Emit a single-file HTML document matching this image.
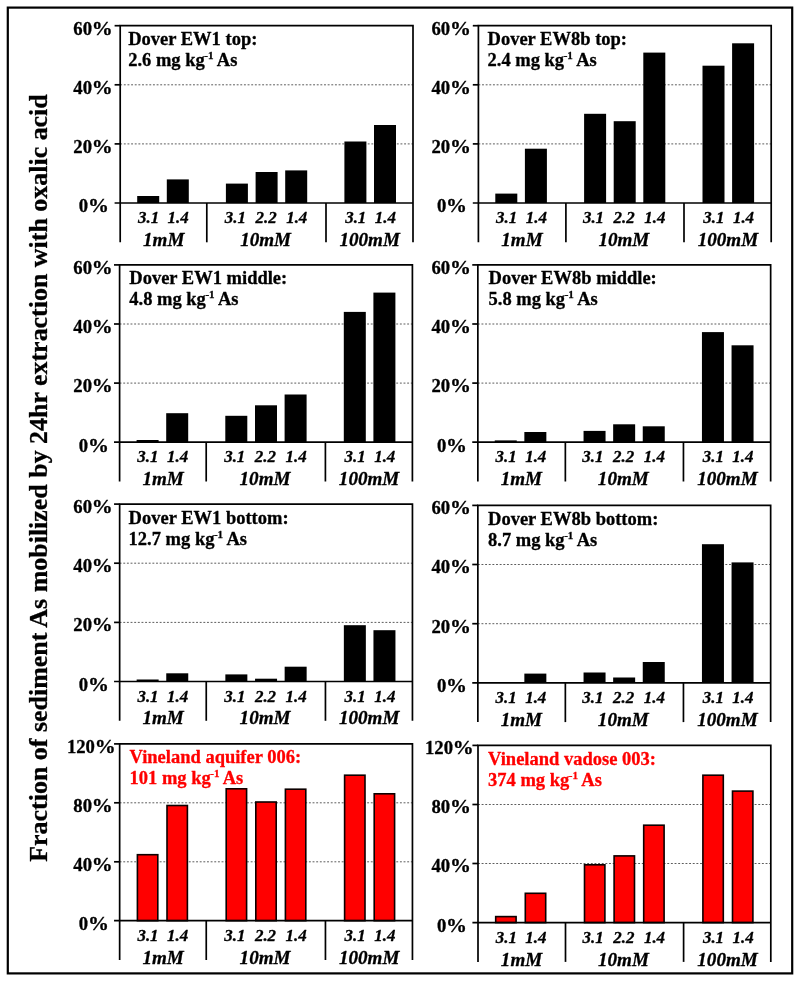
<!DOCTYPE html>
<html><head><meta charset="utf-8"><title>Chart</title>
<style>
html,body{margin:0;padding:0;background:#fff;}
body{width:800px;height:981px;overflow:hidden;font-family:"Liberation Serif",serif;}
svg{display:block;transform:translateZ(0);will-change:transform;}
.t{font-family:"Liberation Serif",serif;font-weight:bold;stroke-width:0.3px;stroke-linejoin:round;}
.i{font-family:"Liberation Serif",serif;font-weight:bold;font-style:italic;stroke:#000;stroke-width:0.3px;stroke-linejoin:round;}
</style></head>
<body>
<svg width="800" height="981" viewBox="0 0 800 981">
<rect x="0" y="0" width="800" height="981" fill="#fff"/>
<rect x="7.8" y="7.6" width="784.4" height="965.8" fill="none" stroke="#000" stroke-width="2.2"/>
<text class="t" font-size="25.95" text-anchor="middle" transform="translate(46.7 478) rotate(-90)" fill="#000" stroke="#000">Fraction of sediment As mobilized by 24hr extraction with oxalic acid</text>
<g transform="translate(0 0)">
<line x1="120.2" y1="143.9" x2="413.0" y2="143.9" stroke="#333" stroke-width="0.8" stroke-dasharray="1.9 1.74"/>
<line x1="120.2" y1="84.8" x2="413.0" y2="84.8" stroke="#333" stroke-width="0.8" stroke-dasharray="1.9 1.74"/>
<rect x="137.2" y="196.0" width="22.0" height="7.0" fill="#000"/>
<rect x="166.8" y="179.4" width="22.0" height="23.6" fill="#000"/>
<rect x="225.9" y="183.6" width="22.0" height="19.4" fill="#000"/>
<rect x="255.6" y="172.0" width="22.0" height="31.0" fill="#000"/>
<rect x="285.2" y="170.4" width="22.0" height="32.6" fill="#000"/>
<rect x="344.4" y="141.5" width="22.0" height="61.5" fill="#000"/>
<rect x="374.0" y="125.0" width="22.0" height="78.0" fill="#000"/>
<path d="M120.2 242.3V25.7H413.0V242.3" fill="none" stroke="#000" stroke-width="1.7"/>
<line x1="114.6" y1="203.0" x2="413.0" y2="203.0" stroke="#000" stroke-width="1.7"/>
<line x1="114.6" y1="143.9" x2="120.2" y2="143.9" stroke="#000" stroke-width="1.7"/>
<line x1="114.6" y1="84.8" x2="120.2" y2="84.8" stroke="#000" stroke-width="1.7"/>
<line x1="114.6" y1="25.7" x2="120.2" y2="25.7" stroke="#000" stroke-width="1.7"/>
<line x1="206.8" y1="203.0" x2="206.8" y2="242.3" stroke="#000" stroke-width="1.7"/>
<line x1="326.0" y1="203.0" x2="326.0" y2="242.3" stroke="#000" stroke-width="1.7"/>
<text class="t" font-size="18.7" text-anchor="end" stroke="#000" transform="translate(88.20 212.30) scale(1.0 1)">0</text>
<text class="t" font-size="18.7" stroke="#000" transform="translate(88.00 212.30) scale(1.12 1)">%</text>
<text class="t" font-size="18.7" text-anchor="end" stroke="#000" transform="translate(91.98 152.80) scale(1.0 1)">20</text>
<text class="t" font-size="18.7" stroke="#000" transform="translate(91.78 152.80) scale(1.12 1)">%</text>
<text class="t" font-size="18.7" text-anchor="end" stroke="#000" transform="translate(91.98 93.70) scale(1.0 1)">40</text>
<text class="t" font-size="18.7" stroke="#000" transform="translate(91.78 93.70) scale(1.12 1)">%</text>
<text class="t" font-size="18.7" text-anchor="end" stroke="#000" transform="translate(91.98 34.60) scale(1.0 1)">60</text>
<text class="t" font-size="18.7" stroke="#000" transform="translate(91.78 34.60) scale(1.12 1)">%</text>
<text class="i" font-size="17.5" text-anchor="middle" transform="translate(148.55 223.00) scale(0.97 1)">3.1</text>
<text class="i" font-size="17.5" text-anchor="middle" transform="translate(178.15 223.00) scale(0.97 1)">1.4</text>
<text class="i" font-size="17.5" text-anchor="middle" transform="translate(235.35 223.00) scale(0.97 1)">3.1</text>
<text class="i" font-size="17.5" text-anchor="middle" transform="translate(266.05 223.00) scale(0.97 1)">2.2</text>
<text class="i" font-size="17.5" text-anchor="middle" transform="translate(296.75 223.00) scale(0.97 1)">1.4</text>
<text class="i" font-size="17.5" text-anchor="middle" transform="translate(355.75 223.00) scale(0.97 1)">3.1</text>
<text class="i" font-size="17.5" text-anchor="middle" transform="translate(385.35 223.00) scale(0.97 1)">1.4</text>
<text class="i" font-size="19.1" text-anchor="middle" transform="translate(163.70 245.90) scale(1.0 1)">1mM</text>
<text class="i" font-size="19.1" text-anchor="middle" transform="translate(265.60 245.90) scale(1.0 1)">10mM</text>
<text class="i" font-size="19.1" text-anchor="middle" transform="translate(369.70 245.90) scale(1.0 1)">100mM</text>
<text class="t" font-size="18.7" fill="#000" stroke="#000" transform="translate(128.20 44.80) scale(0.99 1)">Dover EW1 top:</text>
<text class="t" font-size="18.7" fill="#000" stroke="#000" transform="translate(128.20 65.80) scale(0.99 1)">2.6 mg kg<tspan font-size="11.2" dy="-6.7" dx="-0.5">-1</tspan><tspan dy="6.7" dx="-0.3"> As</tspan></text>
</g>
<g transform="translate(0 0)">
<line x1="478.4" y1="143.9" x2="771.2" y2="143.9" stroke="#333" stroke-width="0.8" stroke-dasharray="1.9 1.74"/>
<line x1="478.4" y1="84.8" x2="771.2" y2="84.8" stroke="#333" stroke-width="0.8" stroke-dasharray="1.9 1.74"/>
<rect x="495.3" y="193.6" width="22.0" height="9.4" fill="#000"/>
<rect x="524.9" y="148.7" width="22.0" height="54.3" fill="#000"/>
<rect x="584.1" y="113.8" width="22.0" height="89.2" fill="#000"/>
<rect x="613.7" y="121.2" width="22.0" height="81.8" fill="#000"/>
<rect x="643.3" y="52.6" width="22.0" height="150.4" fill="#000"/>
<rect x="702.5" y="65.7" width="22.0" height="137.3" fill="#000"/>
<rect x="732.1" y="43.3" width="22.0" height="159.7" fill="#000"/>
<path d="M478.4 242.3V25.7H771.2V242.3" fill="none" stroke="#000" stroke-width="1.7"/>
<line x1="472.8" y1="203.0" x2="771.2" y2="203.0" stroke="#000" stroke-width="1.7"/>
<line x1="472.8" y1="143.9" x2="478.4" y2="143.9" stroke="#000" stroke-width="1.7"/>
<line x1="472.8" y1="84.8" x2="478.4" y2="84.8" stroke="#000" stroke-width="1.7"/>
<line x1="472.8" y1="25.7" x2="478.4" y2="25.7" stroke="#000" stroke-width="1.7"/>
<line x1="565.9" y1="203.0" x2="565.9" y2="242.3" stroke="#000" stroke-width="1.7"/>
<line x1="684.0" y1="203.0" x2="684.0" y2="242.3" stroke="#000" stroke-width="1.7"/>
<text class="t" font-size="18.7" text-anchor="end" stroke="#000" transform="translate(446.30 212.30) scale(1.0 1)">0</text>
<text class="t" font-size="18.7" stroke="#000" transform="translate(446.10 212.30) scale(1.12 1)">%</text>
<text class="t" font-size="18.7" text-anchor="end" stroke="#000" transform="translate(450.08 152.80) scale(1.0 1)">20</text>
<text class="t" font-size="18.7" stroke="#000" transform="translate(449.88 152.80) scale(1.12 1)">%</text>
<text class="t" font-size="18.7" text-anchor="end" stroke="#000" transform="translate(450.08 93.70) scale(1.0 1)">40</text>
<text class="t" font-size="18.7" stroke="#000" transform="translate(449.88 93.70) scale(1.12 1)">%</text>
<text class="t" font-size="18.7" text-anchor="end" stroke="#000" transform="translate(450.08 34.60) scale(1.0 1)">60</text>
<text class="t" font-size="18.7" stroke="#000" transform="translate(449.88 34.60) scale(1.12 1)">%</text>
<text class="i" font-size="17.5" text-anchor="middle" transform="translate(506.70 223.00) scale(0.97 1)">3.1</text>
<text class="i" font-size="17.5" text-anchor="middle" transform="translate(536.30 223.00) scale(0.97 1)">1.4</text>
<text class="i" font-size="17.5" text-anchor="middle" transform="translate(593.50 223.00) scale(0.97 1)">3.1</text>
<text class="i" font-size="17.5" text-anchor="middle" transform="translate(624.20 223.00) scale(0.97 1)">2.2</text>
<text class="i" font-size="17.5" text-anchor="middle" transform="translate(654.90 223.00) scale(0.97 1)">1.4</text>
<text class="i" font-size="17.5" text-anchor="middle" transform="translate(713.90 223.00) scale(0.97 1)">3.1</text>
<text class="i" font-size="17.5" text-anchor="middle" transform="translate(743.50 223.00) scale(0.97 1)">1.4</text>
<text class="i" font-size="19.1" text-anchor="middle" transform="translate(521.95 245.90) scale(1.0 1)">1mM</text>
<text class="i" font-size="19.1" text-anchor="middle" transform="translate(623.85 245.90) scale(1.0 1)">10mM</text>
<text class="i" font-size="19.1" text-anchor="middle" transform="translate(727.95 245.90) scale(1.0 1)">100mM</text>
<text class="t" font-size="18.7" fill="#000" stroke="#000" transform="translate(487.55 44.80) scale(0.99 1)">Dover EW8b top:</text>
<text class="t" font-size="18.7" fill="#000" stroke="#000" transform="translate(487.55 65.80) scale(0.99 1)">2.4 mg kg<tspan font-size="11.2" dy="-6.7" dx="-0.5">-1</tspan><tspan dy="6.7" dx="-0.3"> As</tspan></text>
</g>
<g transform="translate(-0.6 0)">
<line x1="120.2" y1="383.1" x2="413.0" y2="383.1" stroke="#333" stroke-width="0.8" stroke-dasharray="1.9 1.74"/>
<line x1="120.2" y1="324.0" x2="413.0" y2="324.0" stroke="#333" stroke-width="0.8" stroke-dasharray="1.9 1.74"/>
<rect x="137.2" y="440.0" width="22.0" height="2.2" fill="#000"/>
<rect x="166.8" y="413.2" width="22.0" height="29.0" fill="#000"/>
<rect x="225.9" y="415.8" width="22.0" height="26.4" fill="#000"/>
<rect x="255.6" y="405.3" width="22.0" height="36.9" fill="#000"/>
<rect x="285.2" y="394.5" width="22.0" height="47.7" fill="#000"/>
<rect x="344.4" y="311.9" width="22.0" height="130.3" fill="#000"/>
<rect x="374.0" y="292.6" width="22.0" height="149.6" fill="#000"/>
<path d="M120.2 481.5V264.9H413.0V481.5" fill="none" stroke="#000" stroke-width="1.7"/>
<line x1="114.6" y1="442.2" x2="413.0" y2="442.2" stroke="#000" stroke-width="1.7"/>
<line x1="114.6" y1="383.1" x2="120.2" y2="383.1" stroke="#000" stroke-width="1.7"/>
<line x1="114.6" y1="324.0" x2="120.2" y2="324.0" stroke="#000" stroke-width="1.7"/>
<line x1="114.6" y1="264.9" x2="120.2" y2="264.9" stroke="#000" stroke-width="1.7"/>
<line x1="206.8" y1="442.2" x2="206.8" y2="481.5" stroke="#000" stroke-width="1.7"/>
<line x1="326.0" y1="442.2" x2="326.0" y2="481.5" stroke="#000" stroke-width="1.7"/>
<text class="t" font-size="18.7" text-anchor="end" stroke="#000" transform="translate(88.80 451.50) scale(1.0 1)">0</text>
<text class="t" font-size="18.7" stroke="#000" transform="translate(88.60 451.50) scale(1.12 1)">%</text>
<text class="t" font-size="18.7" text-anchor="end" stroke="#000" transform="translate(92.58 392.00) scale(1.0 1)">20</text>
<text class="t" font-size="18.7" stroke="#000" transform="translate(92.38 392.00) scale(1.12 1)">%</text>
<text class="t" font-size="18.7" text-anchor="end" stroke="#000" transform="translate(92.58 332.90) scale(1.0 1)">40</text>
<text class="t" font-size="18.7" stroke="#000" transform="translate(92.38 332.90) scale(1.12 1)">%</text>
<text class="t" font-size="18.7" text-anchor="end" stroke="#000" transform="translate(92.58 273.80) scale(1.0 1)">60</text>
<text class="t" font-size="18.7" stroke="#000" transform="translate(92.38 273.80) scale(1.12 1)">%</text>
<text class="i" font-size="17.5" text-anchor="middle" transform="translate(148.55 462.20) scale(0.97 1)">3.1</text>
<text class="i" font-size="17.5" text-anchor="middle" transform="translate(178.15 462.20) scale(0.97 1)">1.4</text>
<text class="i" font-size="17.5" text-anchor="middle" transform="translate(235.35 462.20) scale(0.97 1)">3.1</text>
<text class="i" font-size="17.5" text-anchor="middle" transform="translate(266.05 462.20) scale(0.97 1)">2.2</text>
<text class="i" font-size="17.5" text-anchor="middle" transform="translate(296.75 462.20) scale(0.97 1)">1.4</text>
<text class="i" font-size="17.5" text-anchor="middle" transform="translate(355.75 462.20) scale(0.97 1)">3.1</text>
<text class="i" font-size="17.5" text-anchor="middle" transform="translate(385.35 462.20) scale(0.97 1)">1.4</text>
<text class="i" font-size="19.1" text-anchor="middle" transform="translate(163.70 485.10) scale(1.0 1)">1mM</text>
<text class="i" font-size="19.1" text-anchor="middle" transform="translate(265.60 485.10) scale(1.0 1)">10mM</text>
<text class="i" font-size="19.1" text-anchor="middle" transform="translate(369.70 485.10) scale(1.0 1)">100mM</text>
<text class="t" font-size="18.7" fill="#000" stroke="#000" transform="translate(129.90 284.00) scale(0.99 1)">Dover EW1 middle:</text>
<text class="t" font-size="18.7" fill="#000" stroke="#000" transform="translate(129.90 305.00) scale(0.99 1)">4.8 mg kg<tspan font-size="11.2" dy="-6.7" dx="-0.5">-1</tspan><tspan dy="6.7" dx="-0.3"> As</tspan></text>
</g>
<g transform="translate(-0.55 0)">
<line x1="478.4" y1="383.1" x2="771.2" y2="383.1" stroke="#333" stroke-width="0.8" stroke-dasharray="1.9 1.74"/>
<line x1="478.4" y1="324.0" x2="771.2" y2="324.0" stroke="#333" stroke-width="0.8" stroke-dasharray="1.9 1.74"/>
<rect x="495.3" y="440.4" width="22.0" height="1.8" fill="#000"/>
<rect x="524.9" y="432.0" width="22.0" height="10.2" fill="#000"/>
<rect x="584.1" y="430.9" width="22.0" height="11.3" fill="#000"/>
<rect x="613.7" y="424.3" width="22.0" height="17.9" fill="#000"/>
<rect x="643.3" y="426.3" width="22.0" height="15.9" fill="#000"/>
<rect x="702.5" y="332.1" width="22.0" height="110.1" fill="#000"/>
<rect x="732.1" y="345.3" width="22.0" height="96.9" fill="#000"/>
<path d="M478.4 481.5V264.9H771.2V481.5" fill="none" stroke="#000" stroke-width="1.7"/>
<line x1="472.8" y1="442.2" x2="771.2" y2="442.2" stroke="#000" stroke-width="1.7"/>
<line x1="472.8" y1="383.1" x2="478.4" y2="383.1" stroke="#000" stroke-width="1.7"/>
<line x1="472.8" y1="324.0" x2="478.4" y2="324.0" stroke="#000" stroke-width="1.7"/>
<line x1="472.8" y1="264.9" x2="478.4" y2="264.9" stroke="#000" stroke-width="1.7"/>
<line x1="565.9" y1="442.2" x2="565.9" y2="481.5" stroke="#000" stroke-width="1.7"/>
<line x1="684.0" y1="442.2" x2="684.0" y2="481.5" stroke="#000" stroke-width="1.7"/>
<text class="t" font-size="18.7" text-anchor="end" stroke="#000" transform="translate(446.85 451.50) scale(1.0 1)">0</text>
<text class="t" font-size="18.7" stroke="#000" transform="translate(446.65 451.50) scale(1.12 1)">%</text>
<text class="t" font-size="18.7" text-anchor="end" stroke="#000" transform="translate(450.63 392.00) scale(1.0 1)">20</text>
<text class="t" font-size="18.7" stroke="#000" transform="translate(450.43 392.00) scale(1.12 1)">%</text>
<text class="t" font-size="18.7" text-anchor="end" stroke="#000" transform="translate(450.63 332.90) scale(1.0 1)">40</text>
<text class="t" font-size="18.7" stroke="#000" transform="translate(450.43 332.90) scale(1.12 1)">%</text>
<text class="t" font-size="18.7" text-anchor="end" stroke="#000" transform="translate(450.63 273.80) scale(1.0 1)">60</text>
<text class="t" font-size="18.7" stroke="#000" transform="translate(450.43 273.80) scale(1.12 1)">%</text>
<text class="i" font-size="17.5" text-anchor="middle" transform="translate(506.70 462.20) scale(0.97 1)">3.1</text>
<text class="i" font-size="17.5" text-anchor="middle" transform="translate(536.30 462.20) scale(0.97 1)">1.4</text>
<text class="i" font-size="17.5" text-anchor="middle" transform="translate(593.50 462.20) scale(0.97 1)">3.1</text>
<text class="i" font-size="17.5" text-anchor="middle" transform="translate(624.20 462.20) scale(0.97 1)">2.2</text>
<text class="i" font-size="17.5" text-anchor="middle" transform="translate(654.90 462.20) scale(0.97 1)">1.4</text>
<text class="i" font-size="17.5" text-anchor="middle" transform="translate(713.90 462.20) scale(0.97 1)">3.1</text>
<text class="i" font-size="17.5" text-anchor="middle" transform="translate(743.50 462.20) scale(0.97 1)">1.4</text>
<text class="i" font-size="19.1" text-anchor="middle" transform="translate(521.95 485.10) scale(1.0 1)">1mM</text>
<text class="i" font-size="19.1" text-anchor="middle" transform="translate(623.85 485.10) scale(1.0 1)">10mM</text>
<text class="i" font-size="19.1" text-anchor="middle" transform="translate(727.95 485.10) scale(1.0 1)">100mM</text>
<text class="t" font-size="18.7" fill="#000" stroke="#000" transform="translate(489.10 284.00) scale(0.99 1)">Dover EW8b middle:</text>
<text class="t" font-size="18.7" fill="#000" stroke="#000" transform="translate(489.10 305.00) scale(0.99 1)">5.8 mg kg<tspan font-size="11.2" dy="-6.7" dx="-0.5">-1</tspan><tspan dy="6.7" dx="-0.3"> As</tspan></text>
</g>
<g transform="translate(-0.55 0)">
<line x1="120.2" y1="622.4" x2="413.0" y2="622.4" stroke="#333" stroke-width="0.8" stroke-dasharray="1.9 1.74"/>
<line x1="120.2" y1="563.2" x2="413.0" y2="563.2" stroke="#333" stroke-width="0.8" stroke-dasharray="1.9 1.74"/>
<rect x="137.2" y="679.5" width="22.0" height="2.0" fill="#000"/>
<rect x="166.8" y="673.3" width="22.0" height="8.2" fill="#000"/>
<rect x="225.9" y="674.4" width="22.0" height="7.1" fill="#000"/>
<rect x="255.6" y="678.7" width="22.0" height="2.8" fill="#000"/>
<rect x="285.2" y="666.7" width="22.0" height="14.8" fill="#000"/>
<rect x="344.4" y="625.2" width="22.0" height="56.3" fill="#000"/>
<rect x="374.0" y="630.2" width="22.0" height="51.3" fill="#000"/>
<path d="M120.2 720.8V504.1H413.0V720.8" fill="none" stroke="#000" stroke-width="1.7"/>
<line x1="114.6" y1="681.5" x2="413.0" y2="681.5" stroke="#000" stroke-width="1.7"/>
<line x1="114.6" y1="622.4" x2="120.2" y2="622.4" stroke="#000" stroke-width="1.7"/>
<line x1="114.6" y1="563.2" x2="120.2" y2="563.2" stroke="#000" stroke-width="1.7"/>
<line x1="114.6" y1="504.1" x2="120.2" y2="504.1" stroke="#000" stroke-width="1.7"/>
<line x1="206.8" y1="681.5" x2="206.8" y2="720.8" stroke="#000" stroke-width="1.7"/>
<line x1="326.0" y1="681.5" x2="326.0" y2="720.8" stroke="#000" stroke-width="1.7"/>
<text class="t" font-size="18.7" text-anchor="end" stroke="#000" transform="translate(88.75 690.80) scale(1.0 1)">0</text>
<text class="t" font-size="18.7" stroke="#000" transform="translate(88.55 690.80) scale(1.12 1)">%</text>
<text class="t" font-size="18.7" text-anchor="end" stroke="#000" transform="translate(92.53 631.27) scale(1.0 1)">20</text>
<text class="t" font-size="18.7" stroke="#000" transform="translate(92.33 631.27) scale(1.12 1)">%</text>
<text class="t" font-size="18.7" text-anchor="end" stroke="#000" transform="translate(92.53 572.13) scale(1.0 1)">40</text>
<text class="t" font-size="18.7" stroke="#000" transform="translate(92.33 572.13) scale(1.12 1)">%</text>
<text class="t" font-size="18.7" text-anchor="end" stroke="#000" transform="translate(92.53 513.00) scale(1.0 1)">60</text>
<text class="t" font-size="18.7" stroke="#000" transform="translate(92.33 513.00) scale(1.12 1)">%</text>
<text class="i" font-size="17.5" text-anchor="middle" transform="translate(148.55 701.50) scale(0.97 1)">3.1</text>
<text class="i" font-size="17.5" text-anchor="middle" transform="translate(178.15 701.50) scale(0.97 1)">1.4</text>
<text class="i" font-size="17.5" text-anchor="middle" transform="translate(235.35 701.50) scale(0.97 1)">3.1</text>
<text class="i" font-size="17.5" text-anchor="middle" transform="translate(266.05 701.50) scale(0.97 1)">2.2</text>
<text class="i" font-size="17.5" text-anchor="middle" transform="translate(296.75 701.50) scale(0.97 1)">1.4</text>
<text class="i" font-size="17.5" text-anchor="middle" transform="translate(355.75 701.50) scale(0.97 1)">3.1</text>
<text class="i" font-size="17.5" text-anchor="middle" transform="translate(385.35 701.50) scale(0.97 1)">1.4</text>
<text class="i" font-size="19.1" text-anchor="middle" transform="translate(163.70 724.40) scale(1.0 1)">1mM</text>
<text class="i" font-size="19.1" text-anchor="middle" transform="translate(265.60 724.40) scale(1.0 1)">10mM</text>
<text class="i" font-size="19.1" text-anchor="middle" transform="translate(369.70 724.40) scale(1.0 1)">100mM</text>
<text class="t" font-size="18.7" fill="#000" stroke="#000" transform="translate(129.15 523.80) scale(0.99 1)">Dover EW1 bottom:</text>
<text class="t" font-size="18.7" fill="#000" stroke="#000" transform="translate(129.15 544.80) scale(0.99 1)">12.7 mg kg<tspan font-size="11.2" dy="-6.7" dx="-0.5">-1</tspan><tspan dy="6.7" dx="-0.3"> As</tspan></text>
</g>
<g transform="translate(-0.55 0)">
<line x1="478.4" y1="623.7" x2="771.2" y2="623.7" stroke="#333" stroke-width="0.8" stroke-dasharray="1.9 1.74"/>
<line x1="478.4" y1="564.5" x2="771.2" y2="564.5" stroke="#333" stroke-width="0.8" stroke-dasharray="1.9 1.74"/>
<rect x="524.9" y="673.6" width="22.0" height="9.2" fill="#000"/>
<rect x="584.1" y="672.5" width="22.0" height="10.3" fill="#000"/>
<rect x="613.7" y="677.5" width="22.0" height="5.3" fill="#000"/>
<rect x="643.3" y="662.0" width="22.0" height="20.8" fill="#000"/>
<rect x="702.5" y="544.2" width="22.0" height="138.6" fill="#000"/>
<rect x="732.1" y="562.4" width="22.0" height="120.4" fill="#000"/>
<path d="M478.4 722.1V505.4H771.2V722.1" fill="none" stroke="#000" stroke-width="1.7"/>
<line x1="472.8" y1="682.8" x2="771.2" y2="682.8" stroke="#000" stroke-width="1.7"/>
<line x1="472.8" y1="623.7" x2="478.4" y2="623.7" stroke="#000" stroke-width="1.7"/>
<line x1="472.8" y1="564.5" x2="478.4" y2="564.5" stroke="#000" stroke-width="1.7"/>
<line x1="472.8" y1="505.4" x2="478.4" y2="505.4" stroke="#000" stroke-width="1.7"/>
<line x1="565.9" y1="682.8" x2="565.9" y2="722.1" stroke="#000" stroke-width="1.7"/>
<line x1="684.0" y1="682.8" x2="684.0" y2="722.1" stroke="#000" stroke-width="1.7"/>
<text class="t" font-size="18.7" text-anchor="end" stroke="#000" transform="translate(446.85 692.10) scale(1.0 1)">0</text>
<text class="t" font-size="18.7" stroke="#000" transform="translate(446.65 692.10) scale(1.12 1)">%</text>
<text class="t" font-size="18.7" text-anchor="end" stroke="#000" transform="translate(450.63 632.57) scale(1.0 1)">20</text>
<text class="t" font-size="18.7" stroke="#000" transform="translate(450.43 632.57) scale(1.12 1)">%</text>
<text class="t" font-size="18.7" text-anchor="end" stroke="#000" transform="translate(450.63 573.43) scale(1.0 1)">40</text>
<text class="t" font-size="18.7" stroke="#000" transform="translate(450.43 573.43) scale(1.12 1)">%</text>
<text class="t" font-size="18.7" text-anchor="end" stroke="#000" transform="translate(450.63 514.30) scale(1.0 1)">60</text>
<text class="t" font-size="18.7" stroke="#000" transform="translate(450.43 514.30) scale(1.12 1)">%</text>
<text class="i" font-size="17.5" text-anchor="middle" transform="translate(506.70 702.80) scale(0.97 1)">3.1</text>
<text class="i" font-size="17.5" text-anchor="middle" transform="translate(536.30 702.80) scale(0.97 1)">1.4</text>
<text class="i" font-size="17.5" text-anchor="middle" transform="translate(593.50 702.80) scale(0.97 1)">3.1</text>
<text class="i" font-size="17.5" text-anchor="middle" transform="translate(624.20 702.80) scale(0.97 1)">2.2</text>
<text class="i" font-size="17.5" text-anchor="middle" transform="translate(654.90 702.80) scale(0.97 1)">1.4</text>
<text class="i" font-size="17.5" text-anchor="middle" transform="translate(713.90 702.80) scale(0.97 1)">3.1</text>
<text class="i" font-size="17.5" text-anchor="middle" transform="translate(743.50 702.80) scale(0.97 1)">1.4</text>
<text class="i" font-size="19.1" text-anchor="middle" transform="translate(521.95 725.70) scale(1.0 1)">1mM</text>
<text class="i" font-size="19.1" text-anchor="middle" transform="translate(623.85 725.70) scale(1.0 1)">10mM</text>
<text class="i" font-size="19.1" text-anchor="middle" transform="translate(727.95 725.70) scale(1.0 1)">100mM</text>
<text class="t" font-size="18.7" fill="#000" stroke="#000" transform="translate(488.60 524.90) scale(0.99 1)">Dover EW8b bottom:</text>
<text class="t" font-size="18.7" fill="#000" stroke="#000" transform="translate(488.60 545.90) scale(0.99 1)">8.7 mg kg<tspan font-size="11.2" dy="-6.7" dx="-0.5">-1</tspan><tspan dy="6.7" dx="-0.3"> As</tspan></text>
</g>
<g transform="translate(-0.55 0)">
<line x1="120.2" y1="861.8" x2="413.0" y2="861.8" stroke="#333" stroke-width="0.8" stroke-dasharray="1.9 1.74"/>
<line x1="120.2" y1="802.8" x2="413.0" y2="802.8" stroke="#333" stroke-width="0.8" stroke-dasharray="1.9 1.74"/>
<rect x="137.95" y="854.70" width="20.40" height="66.00" fill="#ff0000" stroke="#0c0000" stroke-width="1.6"/>
<rect x="167.55" y="805.50" width="20.40" height="115.20" fill="#ff0000" stroke="#0c0000" stroke-width="1.6"/>
<rect x="226.75" y="788.80" width="20.40" height="131.90" fill="#ff0000" stroke="#0c0000" stroke-width="1.6"/>
<rect x="256.35" y="802.00" width="20.40" height="118.70" fill="#ff0000" stroke="#0c0000" stroke-width="1.6"/>
<rect x="285.95" y="789.20" width="20.40" height="131.50" fill="#ff0000" stroke="#0c0000" stroke-width="1.6"/>
<rect x="345.15" y="775.20" width="20.40" height="145.50" fill="#ff0000" stroke="#0c0000" stroke-width="1.6"/>
<rect x="374.75" y="793.80" width="20.40" height="126.90" fill="#ff0000" stroke="#0c0000" stroke-width="1.6"/>
<path d="M120.2 960.0V743.9H413.0V960.0" fill="none" stroke="#000" stroke-width="1.7"/>
<line x1="114.6" y1="920.7" x2="413.0" y2="920.7" stroke="#000" stroke-width="1.7"/>
<line x1="114.6" y1="861.8" x2="120.2" y2="861.8" stroke="#000" stroke-width="1.7"/>
<line x1="114.6" y1="802.8" x2="120.2" y2="802.8" stroke="#000" stroke-width="1.7"/>
<line x1="114.6" y1="743.9" x2="120.2" y2="743.9" stroke="#000" stroke-width="1.7"/>
<line x1="206.8" y1="920.7" x2="206.8" y2="960.0" stroke="#000" stroke-width="1.7"/>
<line x1="326.0" y1="920.7" x2="326.0" y2="960.0" stroke="#000" stroke-width="1.7"/>
<text class="t" font-size="18.7" text-anchor="end" stroke="#000" transform="translate(88.75 930.00) scale(1.0 1)">0</text>
<text class="t" font-size="18.7" stroke="#000" transform="translate(88.55 930.00) scale(1.12 1)">%</text>
<text class="t" font-size="18.7" text-anchor="end" stroke="#000" transform="translate(92.53 870.67) scale(1.0 1)">40</text>
<text class="t" font-size="18.7" stroke="#000" transform="translate(92.33 870.67) scale(1.12 1)">%</text>
<text class="t" font-size="18.7" text-anchor="end" stroke="#000" transform="translate(92.53 811.73) scale(1.0 1)">80</text>
<text class="t" font-size="18.7" stroke="#000" transform="translate(92.33 811.73) scale(1.12 1)">%</text>
<text class="t" font-size="18.7" text-anchor="end" stroke="#000" transform="translate(95.50 752.80) scale(1.0 1)">120</text>
<text class="t" font-size="18.7" stroke="#000" transform="translate(95.30 752.80) scale(1.12 1)">%</text>
<text class="i" font-size="17.5" text-anchor="middle" transform="translate(148.55 940.70) scale(0.97 1)">3.1</text>
<text class="i" font-size="17.5" text-anchor="middle" transform="translate(178.15 940.70) scale(0.97 1)">1.4</text>
<text class="i" font-size="17.5" text-anchor="middle" transform="translate(235.35 940.70) scale(0.97 1)">3.1</text>
<text class="i" font-size="17.5" text-anchor="middle" transform="translate(266.05 940.70) scale(0.97 1)">2.2</text>
<text class="i" font-size="17.5" text-anchor="middle" transform="translate(296.75 940.70) scale(0.97 1)">1.4</text>
<text class="i" font-size="17.5" text-anchor="middle" transform="translate(355.75 940.70) scale(0.97 1)">3.1</text>
<text class="i" font-size="17.5" text-anchor="middle" transform="translate(385.35 940.70) scale(0.97 1)">1.4</text>
<text class="i" font-size="19.1" text-anchor="middle" transform="translate(163.70 963.60) scale(1.0 1)">1mM</text>
<text class="i" font-size="19.1" text-anchor="middle" transform="translate(265.60 963.60) scale(1.0 1)">10mM</text>
<text class="i" font-size="19.1" text-anchor="middle" transform="translate(369.70 963.60) scale(1.0 1)">100mM</text>
<text class="t" font-size="18.7" fill="#ff0000" stroke="#ff0000" transform="translate(130.05 763.00) scale(0.99 1)">Vineland aquifer 006:</text>
<text class="t" font-size="18.7" fill="#ff0000" stroke="#ff0000" transform="translate(130.05 784.00) scale(0.99 1)">101 mg kg<tspan font-size="11.2" dy="-6.7" dx="-0.5">-1</tspan><tspan dy="6.7" dx="-0.3"> As</tspan></text>
</g>
<g transform="translate(-0.4 0)">
<line x1="478.4" y1="863.5" x2="771.2" y2="863.5" stroke="#333" stroke-width="0.8" stroke-dasharray="1.9 1.74"/>
<line x1="478.4" y1="804.5" x2="771.2" y2="804.5" stroke="#333" stroke-width="0.8" stroke-dasharray="1.9 1.74"/>
<rect x="496.10" y="916.60" width="20.40" height="6.00" fill="#ff0000" stroke="#0c0000" stroke-width="1.6"/>
<rect x="525.70" y="893.30" width="20.40" height="29.30" fill="#ff0000" stroke="#0c0000" stroke-width="1.6"/>
<rect x="584.90" y="864.80" width="20.40" height="57.80" fill="#ff0000" stroke="#0c0000" stroke-width="1.6"/>
<rect x="614.50" y="855.90" width="20.40" height="66.70" fill="#ff0000" stroke="#0c0000" stroke-width="1.6"/>
<rect x="644.10" y="825.20" width="20.40" height="97.40" fill="#ff0000" stroke="#0c0000" stroke-width="1.6"/>
<rect x="703.30" y="775.20" width="20.40" height="147.40" fill="#ff0000" stroke="#0c0000" stroke-width="1.6"/>
<rect x="732.90" y="791.10" width="20.40" height="131.50" fill="#ff0000" stroke="#0c0000" stroke-width="1.6"/>
<path d="M478.4 961.9V745.4H771.2V961.9" fill="none" stroke="#000" stroke-width="1.7"/>
<line x1="472.8" y1="922.6" x2="771.2" y2="922.6" stroke="#000" stroke-width="1.7"/>
<line x1="472.8" y1="863.5" x2="478.4" y2="863.5" stroke="#000" stroke-width="1.7"/>
<line x1="472.8" y1="804.5" x2="478.4" y2="804.5" stroke="#000" stroke-width="1.7"/>
<line x1="472.8" y1="745.4" x2="478.4" y2="745.4" stroke="#000" stroke-width="1.7"/>
<line x1="565.9" y1="922.6" x2="565.9" y2="961.9" stroke="#000" stroke-width="1.7"/>
<line x1="684.0" y1="922.6" x2="684.0" y2="961.9" stroke="#000" stroke-width="1.7"/>
<text class="t" font-size="18.7" text-anchor="end" stroke="#000" transform="translate(446.70 931.90) scale(1.0 1)">0</text>
<text class="t" font-size="18.7" stroke="#000" transform="translate(446.50 931.90) scale(1.12 1)">%</text>
<text class="t" font-size="18.7" text-anchor="end" stroke="#000" transform="translate(450.48 872.43) scale(1.0 1)">40</text>
<text class="t" font-size="18.7" stroke="#000" transform="translate(450.28 872.43) scale(1.12 1)">%</text>
<text class="t" font-size="18.7" text-anchor="end" stroke="#000" transform="translate(450.48 813.37) scale(1.0 1)">80</text>
<text class="t" font-size="18.7" stroke="#000" transform="translate(450.28 813.37) scale(1.12 1)">%</text>
<text class="t" font-size="18.7" text-anchor="end" stroke="#000" transform="translate(453.45 754.30) scale(1.0 1)">120</text>
<text class="t" font-size="18.7" stroke="#000" transform="translate(453.25 754.30) scale(1.12 1)">%</text>
<text class="i" font-size="17.5" text-anchor="middle" transform="translate(506.70 942.60) scale(0.97 1)">3.1</text>
<text class="i" font-size="17.5" text-anchor="middle" transform="translate(536.30 942.60) scale(0.97 1)">1.4</text>
<text class="i" font-size="17.5" text-anchor="middle" transform="translate(593.50 942.60) scale(0.97 1)">3.1</text>
<text class="i" font-size="17.5" text-anchor="middle" transform="translate(624.20 942.60) scale(0.97 1)">2.2</text>
<text class="i" font-size="17.5" text-anchor="middle" transform="translate(654.90 942.60) scale(0.97 1)">1.4</text>
<text class="i" font-size="17.5" text-anchor="middle" transform="translate(713.90 942.60) scale(0.97 1)">3.1</text>
<text class="i" font-size="17.5" text-anchor="middle" transform="translate(743.50 942.60) scale(0.97 1)">1.4</text>
<text class="i" font-size="19.1" text-anchor="middle" transform="translate(521.95 965.50) scale(1.0 1)">1mM</text>
<text class="i" font-size="19.1" text-anchor="middle" transform="translate(623.85 965.50) scale(1.0 1)">10mM</text>
<text class="i" font-size="19.1" text-anchor="middle" transform="translate(727.95 965.50) scale(1.0 1)">100mM</text>
<text class="t" font-size="18.7" fill="#ff0000" stroke="#ff0000" transform="translate(488.45 764.50) scale(0.99 1)">Vineland vadose 003:</text>
<text class="t" font-size="18.7" fill="#ff0000" stroke="#ff0000" transform="translate(488.45 785.50) scale(0.99 1)">374 mg kg<tspan font-size="11.2" dy="-6.7" dx="-0.5">-1</tspan><tspan dy="6.7" dx="-0.3"> As</tspan></text>
</g>
</svg>
</body></html>
